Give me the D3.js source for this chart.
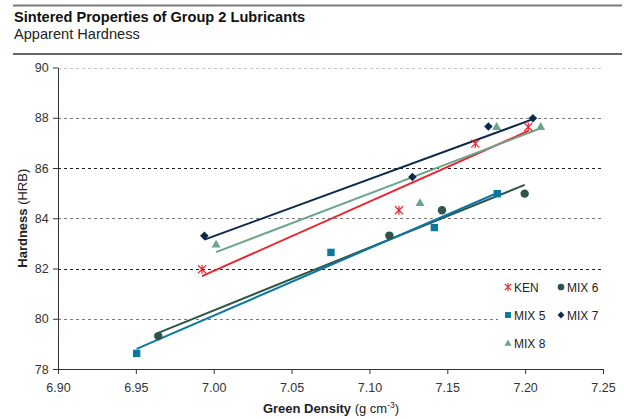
<!DOCTYPE html>
<html>
<head>
<meta charset="utf-8">
<script src="https://cdn.jsdelivr.net/npm/d3@7"></script>
<style>
  body { margin: 0; background: #fff; }
  svg { display: block; font-family: "Liberation Sans", Arial, sans-serif; }
</style>
</head>
<body>
<svg id="chart" width="624" height="419"></svg>
<script>
// Green density (g cm^-3) and apparent hardness (HRB) per lubricant mix
const kenDensity  = [6.9925, 7.119, 7.168, 7.202];
const kenHardness = [81.97, 84.32, 86.97, 87.63];
const mix6Density  = [6.9644, 7.1128, 7.1466, 7.1997];
const mix6Hardness = [79.31, 83.31, 84.32, 84.98];
const mix5Density  = [6.9505, 7.0753, 7.1417, 7.1821];
const mix5Hardness = [78.62, 82.64, 83.63, 84.98];
const mix7Density  = [6.994, 7.1276, 7.1764, 7.205];
const mix7Hardness = [83.30, 85.64, 87.65, 87.98];
const mix8Density  = [7.0015, 7.1325, 7.1817, 7.210];
const mix8Hardness = [82.97, 84.62, 87.65, 87.65];

const seriesNames = ["KEN", "MIX 6", "MIX 5", "MIX 7", "MIX 8"];
const xTicks = [6.90, 6.95, 7.00, 7.05, 7.10, 7.15, 7.20, 7.25];
const yTicks = [78, 80, 82, 84, 86, 88, 90];

const series = [
  { name: "KEN",   x: kenDensity,  y: kenHardness,  color: "#ED2530", symbol: "asterisk" },
  { name: "MIX 6", x: mix6Density, y: mix6Hardness, color: "#2F5548", symbol: "circle" },
  { name: "MIX 5", x: mix5Density, y: mix5Hardness, color: "#0A78A0", symbol: "square" },
  { name: "MIX 7", x: mix7Density, y: mix7Hardness, color: "#0C2A4C", symbol: "diamond" },
  { name: "MIX 8", x: mix8Density, y: mix8Hardness, color: "#6CA58B", symbol: "triangle" }
];

const svg = d3.select("#chart");
const plotLeft = 58, plotRight = 603, plotTop = 67.5, plotBottom = 369;

const x = d3.scaleLinear().domain([6.90, 7.25]).range([plotLeft, plotRight]);
const y = d3.scaleLinear().domain([78, 90]).range([plotBottom, plotTop]);

// Title block with rules above and below
svg.append("line").attr("x1", 13).attr("x2", 622).attr("y1", 5.5).attr("y2", 5.5)
  .attr("stroke", "#7a7a7a").attr("stroke-width", 2);
svg.append("line").attr("x1", 13).attr("x2", 622).attr("y1", 54).attr("y2", 54)
  .attr("stroke", "#333").attr("stroke-width", 1.5);
svg.append("text").attr("x", 14).attr("y", 22)
  .attr("font-size", 14.6).attr("font-weight", "bold").attr("fill", "#111")
  .text("Sintered Properties of Group 2 Lubricants");
svg.append("text").attr("x", 14).attr("y", 38.5)
  .attr("font-size", 14.6).attr("fill", "#222")
  .text("Apparent Hardness");

// Dashed horizontal gridlines
const gridColor = { 90: "#c4c4c4", 88: "#7a7a7a", 86: "#222", 84: "#7a7a7a", 82: "#222", 80: "#7a7a7a" };
svg.append("g").selectAll("line")
  .data(yTicks.filter(t => t > 78))
  .join("line")
  .attr("x1", plotLeft).attr("x2", plotRight)
  .attr("y1", d => Math.round(y(d)) + 0.5).attr("y2", d => Math.round(y(d)) + 0.5)
  .attr("stroke", d => gridColor[d])
  .attr("stroke-width", 1)
  .attr("stroke-dasharray", "3,3");

// Axes
const xAxis = d3.axisBottom(x).tickValues(xTicks).tickFormat(d3.format(".2f")).tickSize(5).tickSizeOuter(0);
const yAxis = d3.axisLeft(y).tickValues(yTicks).tickFormat(d3.format("d")).tickSize(5).tickSizeOuter(0);

const gx = svg.append("g").attr("transform", `translate(0,${plotBottom})`).call(xAxis);
const gy = svg.append("g").attr("transform", `translate(${plotLeft},0)`).call(yAxis);
[gx, gy].forEach(g => {
  g.select(".domain").attr("stroke", "#333");
  g.selectAll(".tick line").attr("stroke", "#333");
  g.selectAll(".tick text").attr("font-size", 12.5).attr("fill", "#333")
    .attr("font-family", "Liberation Sans, Arial, sans-serif");
});
gx.selectAll(".tick text").attr("dy", "1.2em");
gy.selectAll(".tick text").attr("dx", "-0.1em");

// Axis titles
const xt = svg.append("text").attr("x", 331).attr("y", 413).attr("text-anchor", "middle")
  .attr("font-size", 13).attr("fill", "#222");
xt.append("tspan").attr("font-weight", "bold").text("Green Density");
xt.append("tspan").text(" (g cm");
xt.append("tspan").attr("font-size", 8.5).attr("dy", -5).text("-3");
xt.append("tspan").attr("dy", 5).text(")");

const yt = svg.append("text")
  .attr("transform", `translate(27,${(plotTop + plotBottom) / 2}) rotate(-90)`)
  .attr("text-anchor", "middle").attr("font-size", 13).attr("fill", "#222");
yt.append("tspan").attr("font-weight", "bold").text("Hardness");
yt.append("tspan").text(" (HRB)");

// Least-squares trendline for one series
function fit(xs, ys) {
  const mx = d3.mean(xs), my = d3.mean(ys);
  const sxy = d3.sum(xs, (v, i) => (v - mx) * (ys[i] - my));
  const sxx = d3.sum(xs, v => (v - mx) ** 2);
  const b = sxy / sxx, a = my - b * mx;
  const [x0, x1] = d3.extent(xs);
  return [[x0, a + b * x0], [x1, a + b * x1]];
}

// Marker drawing
function drawMarker(g, sym, color, size) {
  const s = size || 1;
  if (sym === "asterisk") {
    const r = 4 * s;
    g.append("path")
      .attr("d", `M${-r},${-r}L${r},${r}M${-r},${r}L${r},${-r}M0,${-r - 0.5}L0,${r + 0.5}`)
      .attr("stroke", color).attr("stroke-width", 1.2).attr("fill", "none");
  } else if (sym === "circle") {
    g.append("circle").attr("r", 4.2 * s).attr("fill", color);
  } else if (sym === "square") {
    const h = 3.7 * s;
    g.append("rect").attr("x", -h).attr("y", -h).attr("width", 2 * h).attr("height", 2 * h).attr("fill", color);
  } else if (sym === "diamond") {
    const h = 4.3 * s;
    g.append("path").attr("d", `M0,${-h}L${h},0L0,${h}L${-h},0Z`).attr("fill", color);
  } else if (sym === "triangle") {
    const h = 4.5 * s;
    g.append("path").attr("d", `M0,${-h}L${h},${h * 0.75}L${-h},${h * 0.75}Z`).attr("fill", color);
  }
}

// Trendlines
const lineGen = d3.line().x(d => x(d[0])).y(d => y(d[1]));
series.forEach(s => {
  svg.append("path").datum(fit(s.x, s.y))
    .attr("d", lineGen).attr("stroke", s.color).attr("stroke-width", 2).attr("fill", "none");
});

// Data markers
series.forEach(s => {
  const g = svg.append("g");
  s.x.forEach((v, i) => {
    const m = g.append("g").attr("transform", `translate(${x(v)},${y(s.y[i])})`);
    drawMarker(m, s.symbol, s.color, 1);
  });
});

// Legend on a white panel that hides the gridline behind it
svg.append("rect").attr("x", 498).attr("y", 276).attr("width", 106).attr("height", 80).attr("fill", "#fff");
const legendPos = [
  [508, 287], [561, 287],
  [508, 315], [561, 315],
  [508, 343]
];
seriesNames.forEach((name, i) => {
  const s = series.find(d => d.name === name);
  const [lx, ly] = legendPos[i];
  const g = svg.append("g").attr("transform", `translate(${lx},${ly})`);
  drawMarker(g, s.symbol, s.color, 0.8);
  g.append("text").attr("x", 6).attr("y", 4.5).attr("font-size", 12).attr("fill", "#222").text(name);
});
</script>
</body>
</html>
